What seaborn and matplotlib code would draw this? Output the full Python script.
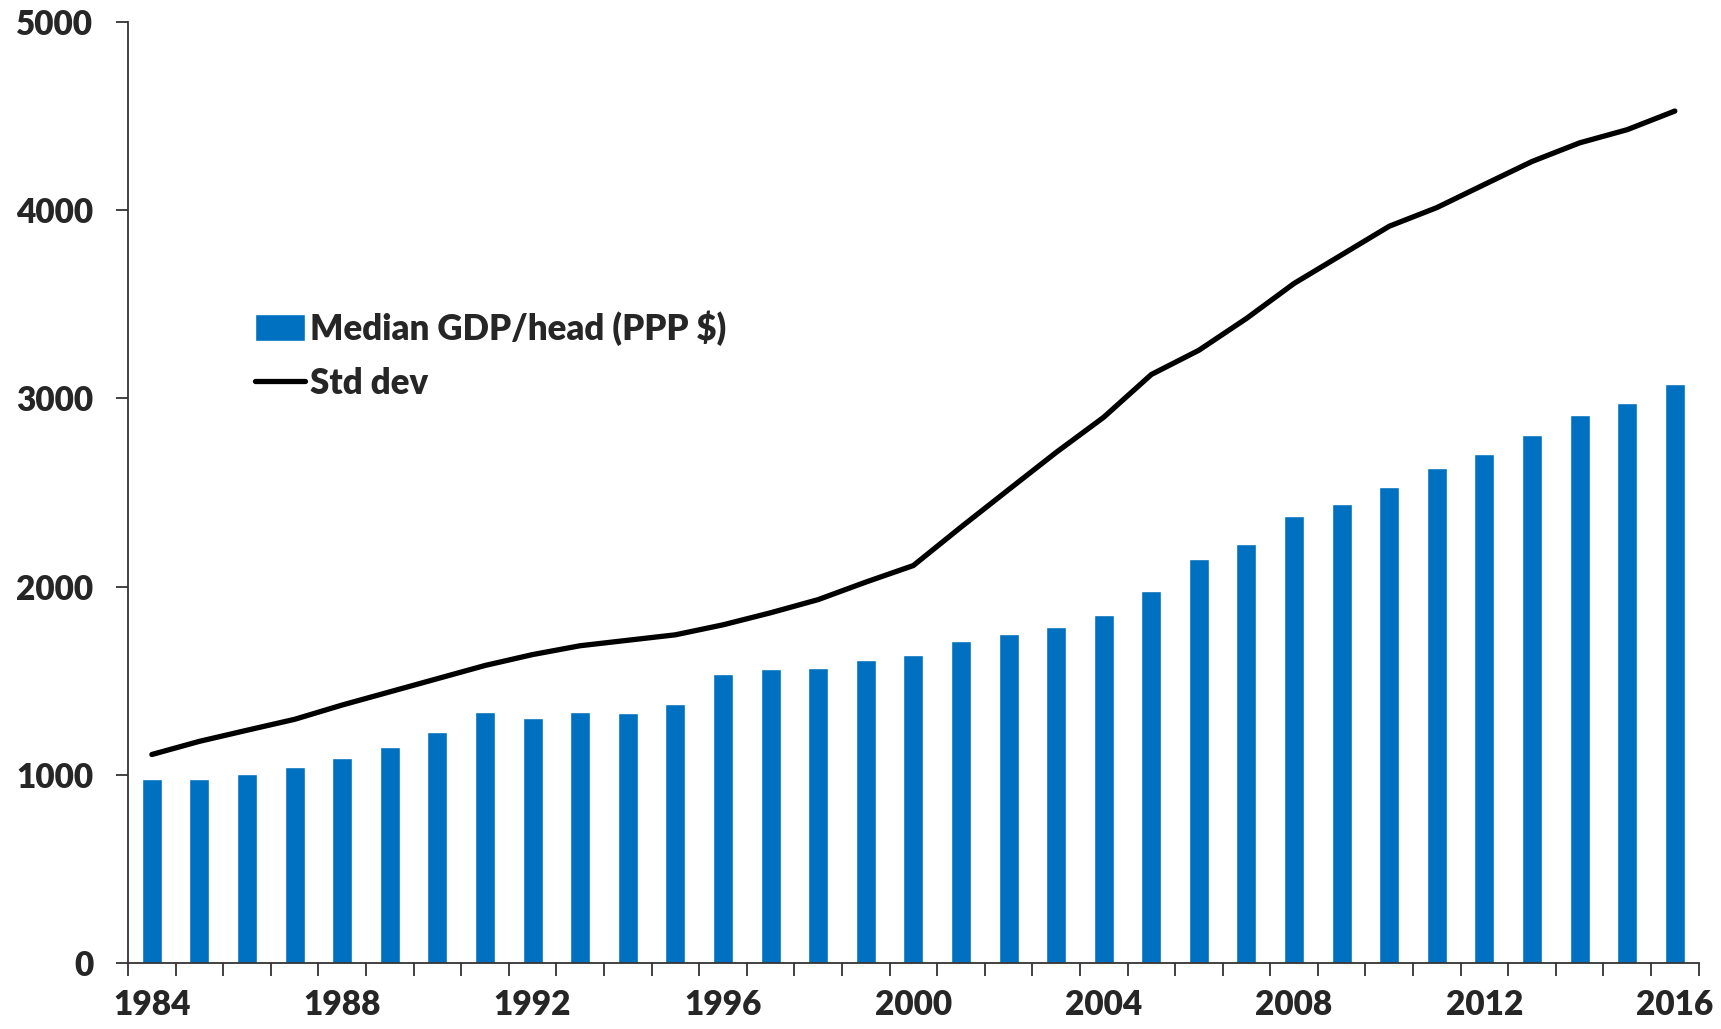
import seaborn as sns
import matplotlib.pyplot as plt
import numpy as np
import pandas as pd

years = list(range(1984, 2017))
median_gdp = [980, 980, 1003, 1044, 1091, 1149, 1225, 1336, 1301, 1336, 1330,
              1377, 1534, 1564, 1569, 1610, 1639, 1709, 1750, 1785, 1849, 1978,
              2147, 2229, 2375, 2439, 2532, 2631, 2707, 2806, 2911, 2975, 3075]
std_dev = [1108, 1178, 1237, 1295, 1371, 1441, 1511, 1581, 1639, 1686, 1715,
           1744, 1797, 1861, 1931, 2024, 2112, 2316, 2515, 2713, 2900, 3127,
           3256, 3425, 3611, 3763, 3915, 4014, 4137, 4259, 4358, 4428, 4527]
label_years = [1984, 1988, 1992, 1996, 2000, 2004, 2008, 2012, 2016]
y_ticks = [0, 1000, 2000, 3000, 4000, 5000]

df = pd.DataFrame({"year": years, "median": median_gdp, "std": std_dev})

sns.set_style("white")
plt.rcParams["font.family"] = ["Lato", "DejaVu Sans"]
plt.rcParams["font.weight"] = "bold"

fig = plt.figure(figsize=(17.21, 10.29), dpi=100)
ax = fig.add_axes([0.0744, 0.0641, 0.9126, 0.9145])

sns.barplot(data=df, x="year", y="median", native_scale=True, width=0.42,
            color="#0070C0", saturation=1, label="Median GDP/head (PPP $)", ax=ax)
sns.lineplot(data=df, x="year", y="std", color="black", linewidth=3.8,
             label="Std dev", ax=ax)

ax.set_xlim(1983.5, 2016.5)
ax.set_ylim(0, 5000)
ax.set_xticks(label_years)
ax.set_xticklabels([str(y) for y in label_years])
ax.set_xticks(np.arange(1983.5, 2017, 1), minor=True)
ax.set_yticks(y_ticks)
ax.set_yticklabels([str(v) for v in y_ticks])
ax.set_xlabel("")
ax.set_ylabel("")

ax.tick_params(axis="x", which="major", length=0, pad=19, labelsize=24)
ax.tick_params(axis="x", which="minor", direction="out", length=9,
               width=1.3, color="#333333")
ax.tick_params(axis="y", direction="out", length=9, width=1.3,
               color="#333333", pad=16, labelsize=24)
ax.tick_params(bottom=True, left=True, which="both")
for t in ax.get_xticklabels() + ax.get_yticklabels():
    t.set_fontweight("heavy")

sns.despine(ax=ax)
for side in ["left", "bottom"]:
    ax.spines[side].set_color("#333333")
    ax.spines[side].set_linewidth(1.3)

handles, labels = ax.get_legend_handles_labels()
order = [labels.index("Median GDP/head (PPP $)"), labels.index("Std dev")]
ax.legend([handles[i] for i in order], [labels[i] for i in order],
          loc="upper left", bbox_to_anchor=(0.061, 0.727), frameon=False,
          handlelength=1.45, handleheight=0.8, handletextpad=0.12,
          labelspacing=0.6, prop={"weight": "heavy", "size": 25})

fig.savefig("out.png", dpi=100)
